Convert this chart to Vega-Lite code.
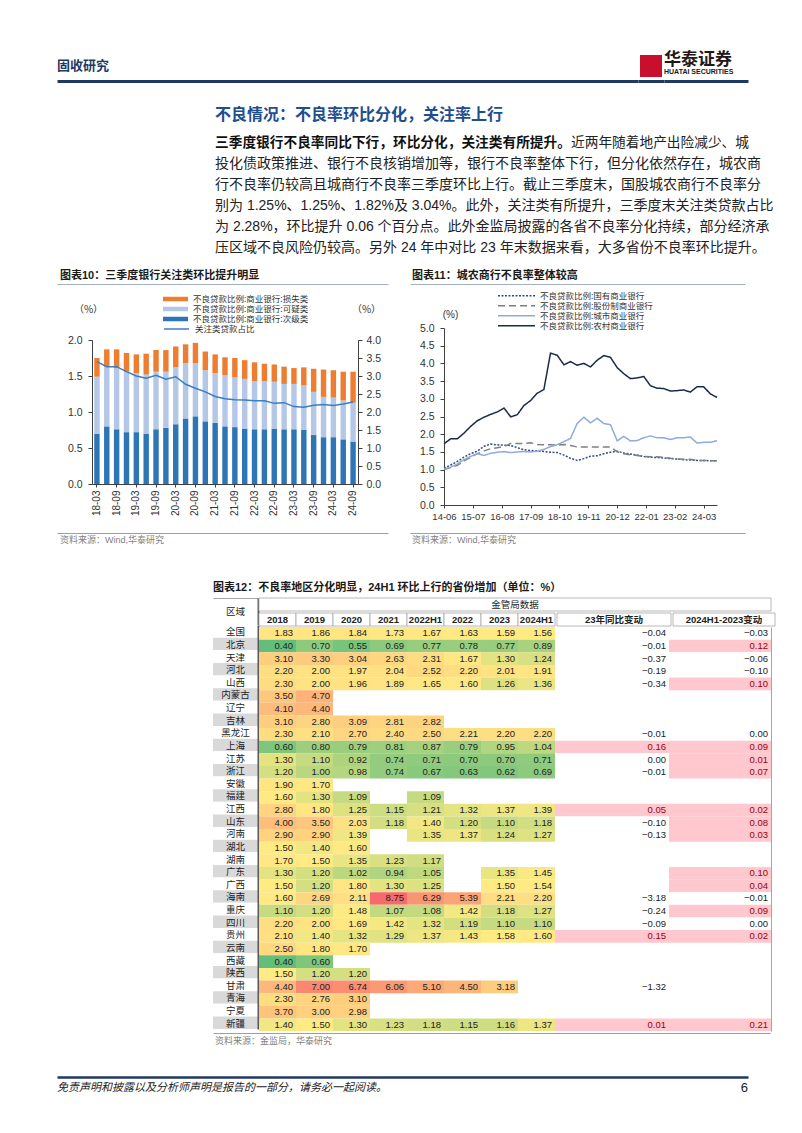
{
"$schema":"https://vega.github.io/schema/vega-lite/v6.json",
"background":"#ffffff",
"padding":{"left":57,"top":50,"right":0,"bottom":0},
"spacing":0,
"resolve":{"scale":{"color":"independent","stroke":"independent","strokeDash":"independent","fill":"independent"},"legend":{"color":"independent","stroke":"independent","strokeDash":"independent","fill":"independent"}},
"config":{
 "view":{"stroke":null},
 "font":"Liberation Sans",
 "axis":{"grid":false,"labelFont":"Liberation Sans","titleFont":"Noto Sans CJK SC"},
 "legend":{"labelFont":"Noto Sans CJK SC"},
 "text":{"font":"Noto Sans CJK SC"}
},
"datasets":{
 "首句":[{"行":1,"文字":"三季度银行不良率同比下行，环比分化，关注类有所提升。"}],
 "首行续":[{"行":1,"文字":"近两年随着地产出险减少、城"}],
 "正文":[
  {"行":2,"文字":"投化债政策推进、银行不良核销增加等，银行不良率整体下行，但分化依然存在，城农商"},
  {"行":3,"文字":"行不良率仍较高且城商行不良率三季度环比上行。截止三季度末，国股城农商行不良率分"},
  {"行":4,"文字":"别为 1.25%、1.25%、1.82%及 3.04%。此外，关注类有所提升，三季度末关注类贷款占比"},
  {"行":5,"文字":"为 2.28%，环比提升 0.06 个百分点。此外金监局披露的各省不良率分化持续，部分经济承"},
  {"行":6,"文字":"压区域不良风险仍较高。另外 24 年中对比 23 年末数据来看，大多省份不良率环比提升。"}
 ],
 "图表10":[
  {"季度":"18-03","次级类":0.70,"可疑类":0.79,"损失类":0.26,"关注类":3.40},
  {"季度":"18-06","次级类":0.80,"可疑类":0.83,"损失类":0.24,"关注类":3.26},
  {"季度":"18-09","次级类":0.76,"可疑类":0.85,"损失类":0.26,"关注类":3.26},
  {"季度":"18-12","次级类":0.72,"可疑类":0.84,"损失类":0.26,"关注类":3.12},
  {"季度":"19-03","次级类":0.72,"可疑类":0.82,"损失类":0.26,"关注类":3.00},
  {"季度":"19-06","次级类":0.70,"可疑类":0.82,"损失类":0.29,"关注类":2.94},
  {"季度":"19-09","次级类":0.76,"可疑类":0.80,"损失类":0.30,"关注类":3.02},
  {"季度":"19-12","次级类":0.78,"可疑类":0.78,"损失类":0.30,"关注类":2.91},
  {"季度":"20-03","次级类":0.83,"可疑类":0.79,"损失类":0.29,"关注类":2.98},
  {"季度":"20-06","次级类":0.91,"可疑类":0.77,"损失类":0.26,"关注类":2.77},
  {"季度":"20-09","次级类":0.94,"可疑类":0.74,"损失类":0.28,"关注类":2.66},
  {"季度":"20-12","次级类":0.87,"可疑类":0.71,"损失类":0.26,"关注类":2.56},
  {"季度":"21-03","次级类":0.85,"可疑类":0.69,"损失类":0.26,"关注类":2.43},
  {"季度":"21-06","次级类":0.80,"可疑类":0.71,"损失类":0.25,"关注类":2.37},
  {"季度":"21-09","次级类":0.79,"可疑类":0.69,"损失类":0.27,"关注类":2.34},
  {"季度":"21-12","次级类":0.77,"可疑类":0.69,"损失类":0.26,"关注类":2.33},
  {"季度":"22-03","次级类":0.76,"可疑类":0.67,"损失类":0.26,"关注类":2.31},
  {"季度":"22-06","次级类":0.76,"可疑类":0.67,"损失类":0.24,"关注类":2.31},
  {"季度":"22-09","次级类":0.77,"可疑类":0.65,"损失类":0.24,"关注类":2.24},
  {"季度":"22-12","次级类":0.76,"可疑类":0.63,"损失类":0.24,"关注类":2.26},
  {"季度":"23-03","次级类":0.76,"可疑类":0.63,"损失类":0.22,"关注类":2.15},
  {"季度":"23-06","次级类":0.75,"可疑类":0.62,"损失类":0.25,"关注类":2.13},
  {"季度":"23-09","次级类":0.68,"可疑类":0.60,"损失类":0.32,"关注类":2.19},
  {"季度":"23-12","次级类":0.65,"可疑类":0.56,"损失类":0.38,"关注类":2.21},
  {"季度":"24-03","次级类":0.65,"可疑类":0.55,"损失类":0.38,"关注类":2.18},
  {"季度":"24-06","次级类":0.62,"可疑类":0.54,"损失类":0.40,"关注类":2.22},
  {"季度":"24-09","次级类":0.59,"可疑类":0.54,"损失类":0.43,"关注类":2.28}
 ],
 "图表11":[
  {"日期":"2014-06-30","国有商业银行":1.04,"股份制商业银行":1.00,"城市商业银行":1.02,"农村商业银行":1.73},
  {"日期":"2014-09-30","国有商业银行":1.13,"股份制商业银行":1.06,"城市商业银行":1.07,"农村商业银行":1.87},
  {"日期":"2014-12-31","国有商业银行":1.23,"股份制商业银行":1.12,"城市商业银行":1.16,"农村商业银行":1.87},
  {"日期":"2015-03-31","国有商业银行":1.35,"股份制商业银行":1.25,"城市商业银行":1.28,"农村商业银行":2.03},
  {"日期":"2015-06-30","国有商业银行":1.45,"股份制商业银行":1.35,"城市商业银行":1.37,"农村商业银行":2.22},
  {"日期":"2015-09-30","国有商业银行":1.52,"股份制商业银行":1.45,"城市商业银行":1.45,"农村商业银行":2.38},
  {"日期":"2015-12-31","国有商业银行":1.66,"股份制商业银行":1.53,"城市商业银行":1.40,"农村商业银行":2.48},
  {"日期":"2016-03-31","国有商业银行":1.72,"股份制商业银行":1.59,"城市商业银行":1.46,"农村商业银行":2.56},
  {"日期":"2016-06-30","国有商业银行":1.70,"股份制商业银行":1.62,"城市商业银行":1.49,"农村商业银行":2.63},
  {"日期":"2016-09-30","国有商业银行":1.69,"股份制商业银行":1.65,"城市商业银行":1.51,"农村商业银行":2.74},
  {"日期":"2016-12-31","国有商业银行":1.68,"股份制商业银行":1.74,"城市商业银行":1.48,"农村商业银行":2.49},
  {"日期":"2017-03-31","国有商业银行":1.62,"股份制商业银行":1.74,"城市商业银行":1.50,"农村商业银行":2.55},
  {"日期":"2017-06-30","国有商业银行":1.56,"股份制商业银行":1.74,"城市商业银行":1.51,"农村商业银行":2.81},
  {"日期":"2017-09-30","国有商业银行":1.54,"股份制商业银行":1.76,"城市商业银行":1.50,"农村商业银行":2.95},
  {"日期":"2017-12-31","国有商业银行":1.53,"股份制商业银行":1.71,"城市商业银行":1.52,"农村商业银行":3.16},
  {"日期":"2018-03-31","国有商业银行":1.51,"股份制商业银行":1.70,"城市商业银行":1.57,"农村商业银行":3.26},
  {"日期":"2018-06-30","国有商业银行":1.49,"股份制商业银行":1.70,"城市商业银行":1.65,"农村商业银行":4.29},
  {"日期":"2018-09-30","国有商业银行":1.48,"股份制商业银行":1.69,"城市商业银行":1.70,"农村商业银行":4.23},
  {"日期":"2018-12-31","国有商业银行":1.41,"股份制商业银行":1.71,"城市商业银行":1.79,"农村商业银行":3.96},
  {"日期":"2019-03-31","国有商业银行":1.32,"股份制商业银行":1.68,"城市商业银行":1.88,"农村商业银行":4.05},
  {"日期":"2019-06-30","国有商业银行":1.26,"股份制商业银行":1.64,"城市商业银行":2.30,"农村商业银行":3.95},
  {"日期":"2019-09-30","国有商业银行":1.31,"股份制商业银行":1.64,"城市商业银行":2.48,"农村商业银行":4.00},
  {"日期":"2019-12-31","国有商业银行":1.38,"股份制商业银行":1.64,"城市商业银行":2.32,"农村商业银行":3.90},
  {"日期":"2020-03-31","国有商业银行":1.39,"股份制商业银行":1.64,"城市商业银行":2.45,"农村商业银行":4.09},
  {"日期":"2020-06-30","国有商业银行":1.45,"股份制商业银行":1.64,"城市商业银行":2.30,"农村商业银行":4.22},
  {"日期":"2020-09-30","国有商业银行":1.49,"股份制商业银行":1.64,"城市商业银行":2.27,"农村商业银行":4.17},
  {"日期":"2020-12-31","国有商业银行":1.52,"股份制商业银行":1.50,"城市商业银行":1.81,"农村商业银行":3.88},
  {"日期":"2021-03-31","国有商业银行":1.47,"股份制商业银行":1.45,"城市商业银行":1.94,"农村商业银行":3.71},
  {"日期":"2021-06-30","国有商业银行":1.44,"股份制商业银行":1.42,"城市商业银行":1.81,"农村商业银行":3.57},
  {"日期":"2021-09-30","国有商业银行":1.41,"股份制商业银行":1.40,"城市商业银行":1.82,"农村商业银行":3.59},
  {"日期":"2021-12-31","国有商业银行":1.37,"股份制商业银行":1.37,"城市商业银行":1.90,"农村商业银行":3.63},
  {"日期":"2022-03-31","国有商业银行":1.35,"股份制商业银行":1.36,"城市商业银行":1.95,"农村商业银行":3.37},
  {"日期":"2022-06-30","国有商业银行":1.34,"股份制商业银行":1.36,"城市商业银行":1.90,"农村商业银行":3.30},
  {"日期":"2022-09-30","国有商业银行":1.33,"股份制商业银行":1.35,"城市商业银行":1.90,"农村商业银行":3.29},
  {"日期":"2022-12-31","国有商业银行":1.31,"股份制商业银行":1.32,"城市商业银行":1.85,"农村商业银行":3.22},
  {"日期":"2023-03-31","国有商业银行":1.30,"股份制商业银行":1.30,"城市商业银行":1.90,"农村商业银行":3.23},
  {"日期":"2023-06-30","国有商业银行":1.28,"股份制商业银行":1.29,"城市商业银行":1.90,"农村商业银行":3.25},
  {"日期":"2023-09-30","国有商业银行":1.27,"股份制商业银行":1.29,"城市商业银行":1.92,"农村商业银行":3.19},
  {"日期":"2023-12-31","国有商业银行":1.26,"股份制商业银行":1.26,"城市商业银行":1.75,"农村商业银行":3.34},
  {"日期":"2024-03-31","国有商业银行":1.26,"股份制商业银行":1.26,"城市商业银行":1.77,"农村商业银行":3.34},
  {"日期":"2024-06-30","国有商业银行":1.25,"股份制商业银行":1.25,"城市商业银行":1.77,"农村商业银行":3.14},
  {"日期":"2024-09-30","国有商业银行":1.25,"股份制商业银行":1.25,"城市商业银行":1.82,"农村商业银行":3.04}
 ],
 "年份":[{"列":"2018"},{"列":"2019"},{"列":"2020"},{"列":"2021"},{"列":"2022H1"},{"列":"2022"},{"列":"2023"},{"列":"2024H1"}],
 "表":[
  {"地区":"全国","2018":1.83,"2019":1.86,"2020":1.84,"2021":1.73,"2022H1":1.67,"2022":1.63,"2023":1.59,"2024H1":1.56,"23年同比变动":-0.04,"2024H1-2023变动":-0.03},
  {"地区":"北京","2018":0.40,"2019":0.70,"2020":0.55,"2021":0.69,"2022H1":0.77,"2022":0.78,"2023":0.77,"2024H1":0.89,"23年同比变动":-0.01,"2024H1-2023变动":0.12},
  {"地区":"天津","2018":3.10,"2019":3.30,"2020":3.04,"2021":2.63,"2022H1":2.31,"2022":1.67,"2023":1.30,"2024H1":1.24,"23年同比变动":-0.37,"2024H1-2023变动":-0.06},
  {"地区":"河北","2018":2.20,"2019":2.00,"2020":1.97,"2021":2.04,"2022H1":2.52,"2022":2.20,"2023":2.01,"2024H1":1.91,"23年同比变动":-0.19,"2024H1-2023变动":-0.10},
  {"地区":"山西","2018":2.30,"2019":2.00,"2020":1.96,"2021":1.89,"2022H1":1.65,"2022":1.60,"2023":1.26,"2024H1":1.36,"23年同比变动":-0.34,"2024H1-2023变动":0.10},
  {"地区":"内蒙古","2018":3.50,"2019":4.70},
  {"地区":"辽宁","2018":4.10,"2019":4.40},
  {"地区":"吉林","2018":3.10,"2019":2.80,"2020":3.09,"2021":2.81,"2022H1":2.82},
  {"地区":"黑龙江","2018":2.30,"2019":2.10,"2020":2.70,"2021":2.40,"2022H1":2.50,"2022":2.21,"2023":2.20,"2024H1":2.20,"23年同比变动":-0.01,"2024H1-2023变动":0.00},
  {"地区":"上海","2018":0.60,"2019":0.80,"2020":0.79,"2021":0.81,"2022H1":0.87,"2022":0.79,"2023":0.95,"2024H1":1.04,"23年同比变动":0.16,"2024H1-2023变动":0.09},
  {"地区":"江苏","2018":1.30,"2019":1.10,"2020":0.92,"2021":0.74,"2022H1":0.71,"2022":0.70,"2023":0.70,"2024H1":0.71,"23年同比变动":0.00,"2024H1-2023变动":0.01},
  {"地区":"浙江","2018":1.20,"2019":1.00,"2020":0.98,"2021":0.74,"2022H1":0.67,"2022":0.63,"2023":0.62,"2024H1":0.69,"23年同比变动":-0.01,"2024H1-2023变动":0.07},
  {"地区":"安徽","2018":1.90,"2019":1.70},
  {"地区":"福建","2018":1.60,"2019":1.30,"2020":1.09,"2022H1":1.09},
  {"地区":"江西","2018":2.80,"2019":1.80,"2020":1.25,"2021":1.15,"2022H1":1.21,"2022":1.32,"2023":1.37,"2024H1":1.39,"23年同比变动":0.05,"2024H1-2023变动":0.02},
  {"地区":"山东","2018":4.00,"2019":3.50,"2020":2.03,"2021":1.18,"2022H1":1.40,"2022":1.20,"2023":1.10,"2024H1":1.18,"23年同比变动":-0.10,"2024H1-2023变动":0.08},
  {"地区":"河南","2018":2.90,"2019":2.90,"2020":1.39,"2022H1":1.35,"2022":1.37,"2023":1.24,"2024H1":1.27,"23年同比变动":-0.13,"2024H1-2023变动":0.03},
  {"地区":"湖北","2018":1.50,"2019":1.40,"2020":1.60},
  {"地区":"湖南","2018":1.70,"2019":1.50,"2020":1.35,"2021":1.23,"2022H1":1.17},
  {"地区":"广东","2018":1.30,"2019":1.20,"2020":1.02,"2021":0.94,"2022H1":1.05,"2023":1.35,"2024H1":1.45,"2024H1-2023变动":0.10},
  {"地区":"广西","2018":1.50,"2019":1.20,"2020":1.80,"2021":1.30,"2022H1":1.25,"2023":1.50,"2024H1":1.54,"2024H1-2023变动":0.04},
  {"地区":"海南","2018":1.60,"2019":2.69,"2020":2.11,"2021":8.75,"2022H1":6.29,"2022":5.39,"2023":2.21,"2024H1":2.20,"23年同比变动":-3.18,"2024H1-2023变动":-0.01},
  {"地区":"重庆","2018":1.10,"2019":1.20,"2020":1.48,"2021":1.07,"2022H1":1.08,"2022":1.42,"2023":1.18,"2024H1":1.27,"23年同比变动":-0.24,"2024H1-2023变动":0.09},
  {"地区":"四川","2018":2.20,"2019":2.00,"2020":1.69,"2021":1.42,"2022H1":1.32,"2022":1.19,"2023":1.10,"2024H1":1.10,"23年同比变动":-0.09,"2024H1-2023变动":0.00},
  {"地区":"贵州","2018":2.10,"2019":1.40,"2020":1.32,"2021":1.29,"2022H1":1.37,"2022":1.43,"2023":1.58,"2024H1":1.60,"23年同比变动":0.15,"2024H1-2023变动":0.02},
  {"地区":"云南","2018":2.50,"2019":1.80,"2020":1.70},
  {"地区":"西藏","2018":0.40,"2019":0.60},
  {"地区":"陕西","2018":1.50,"2019":1.20,"2020":1.20},
  {"地区":"甘肃","2018":4.40,"2019":7.00,"2020":6.74,"2021":6.06,"2022H1":5.10,"2022":4.50,"2023":3.18,"23年同比变动":-1.32},
  {"地区":"青海","2018":2.30,"2019":2.76,"2020":3.10},
  {"地区":"宁夏","2018":3.70,"2019":3.00,"2020":2.98},
  {"地区":"新疆","2018":1.40,"2019":1.50,"2020":1.30,"2021":1.23,"2022H1":1.18,"2022":1.15,"2023":1.16,"2024H1":1.37,"23年同比变动":0.01,"2024H1-2023变动":0.21}
 ]
},
"vconcat":[
 {"hconcat":[
  {"width":581,"height":30,"data":{"values":[{"文字":"固收研究"}]},
   "mark":{"type":"text","align":"left","baseline":"middle","font":"Noto Sans CJK SC","fontSize":13,"fontWeight":"bold","color":"#1F3864"},
   "encoding":{"x":{"datum":"页眉","type":"nominal","bandPosition":0,"scale":{"type":"band","paddingInner":0,"paddingOuter":0},"axis":{"orient":"bottom","domain":true,"domainColor":"#1F3864","domainWidth":3,"labels":false,"ticks":false,"title":null,"grid":false}},"text":{"field":"文字"}}},
  {"width":26,"height":30,"data":{"values":[{"文字":"华泰证券标志"}]},
   "mark":{"type":"point","shape":"square","filled":true,"size":484,"color":"#C8102E","opacity":1},
   "encoding":{"x":{"datum":"页眉","type":"nominal","scale":{"type":"band","paddingInner":0,"paddingOuter":0},"axis":{"orient":"bottom","domain":true,"domainColor":"#1F3864","domainWidth":3,"labels":false,"ticks":false,"title":null,"grid":false}}}},
  {"width":84,"height":30,
   "layer":[
    {"data":{"values":[{"文字":"华泰证券"}]},
     "mark":{"type":"text","align":"left","baseline":"middle","font":"Noto Sans CJK SC","fontSize":17,"fontWeight":"bold","color":"#231815"},
     "encoding":{"x":{"datum":"页眉","type":"nominal","bandPosition":0,"scale":{"type":"band","paddingInner":0,"paddingOuter":0},"axis":{"orient":"bottom","domain":true,"domainColor":"#1F3864","domainWidth":3,"labels":false,"ticks":false,"title":null,"grid":false}},
      "y":{"datum":"上","type":"nominal","scale":{"type":"band","domain":["上","下"],"paddingInner":0,"paddingOuter":0.2},"axis":null},
      "text":{"field":"文字"}}},
    {"data":{"values":[{"文字":"HUATAI SECURITIES"}]},
     "mark":{"type":"text","align":"left","baseline":"middle","font":"Liberation Sans","fontSize":7,"fontWeight":"bold","color":"#231815"},
     "encoding":{"x":{"datum":"页眉","type":"nominal","bandPosition":0,"axis":{"orient":"bottom","domain":true,"domainColor":"#1F3864","domainWidth":3,"labels":false,"ticks":false,"title":null,"grid":false}},
      "y":{"datum":"下","type":"nominal"},
      "text":{"field":"文字"}}}
   ]}
 ],"spacing":0},
 {"width":1,"height":22.5,"data":{"values":[]},"mark":"point","encoding":{}},
 {"hconcat":[
  {"width":158,"height":154,"data":{"values":[]},"mark":"point","encoding":{}},
  {"vconcat":[
   {"width":533,"height":22,"data":{"values":[{"文字":"不良情况：不良率环比分化，关注率上行"}]},
    "mark":{"type":"text","align":"left","baseline":"middle","font":"Noto Sans CJK SC","fontSize":16,"fontWeight":"bold","color":"#1F4E8C"},
    "encoding":{"x":{"datum":"标题","type":"nominal","bandPosition":0,"scale":{"type":"band","paddingInner":0,"paddingOuter":0},"axis":null},"text":{"field":"文字"}}},
   {"width":1,"height":6,"data":{"values":[]},"mark":"point","encoding":{}},
   {"width":533,"height":126,
    "encoding":{
     "x":{"datum":"正文","type":"nominal","bandPosition":0,"scale":{"type":"band","paddingInner":0,"paddingOuter":0},"axis":null},
     "y":{"field":"行","type":"ordinal","scale":{"type":"band","domain":[1,2,3,4,5,6],"paddingInner":0,"paddingOuter":0},"axis":null},
     "text":{"field":"文字"}},
    "layer":[
     {"data":{"name":"首句"},"mark":{"type":"text","align":"left","baseline":"middle","font":"Noto Sans CJK SC","fontSize":13.7,"fontWeight":"bold","color":"#111111"}},
     {"data":{"name":"首行续"},"mark":{"type":"text","align":"left","baseline":"middle","font":"Noto Sans CJK SC","fontSize":13.7,"color":"#222222","dx":356}},
     {"data":{"name":"正文"},"mark":{"type":"text","align":"left","baseline":"middle","font":"Liberation Sans, Noto Sans CJK SC","fontSize":14,"color":"#222222"}}
    ]}
  ],"spacing":0}
 ],"spacing":0},
 {"width":1,"height":10,"data":{"values":[]},"mark":"point","encoding":{}},
 {"hconcat":[
  {"vconcat":[
   {"width":331,"height":16,"data":{"values":[{"文字":"图表10：三季度银行关注类环比提升明显"}]},
    "mark":{"type":"text","align":"left","baseline":"middle","font":"Liberation Sans, Noto Sans CJK SC","fontSize":11,"fontWeight":"bold","color":"#1a1a1a","dx":3},
    "encoding":{"x":{"datum":"图表10","type":"nominal","bandPosition":0,"scale":{"type":"band","paddingInner":0,"paddingOuter":0},"axis":{"orient":"bottom","domain":true,"domainColor":"#A3AFC2","domainWidth":1,"labels":false,"ticks":false,"title":null,"grid":false}},"text":{"field":"文字"}}},
   {"width":1,"height":9.5,"data":{"values":[]},"mark":"point","encoding":{}},
   {"hconcat":[
    {"width":10,"height":1,"data":{"values":[]},"mark":"point","encoding":{}},
    {"width":266,"height":144,"data":{"name":"图表10"},
     "layer":[
      {"transform":[{"fold":["次级类","可疑类","损失类"],"as":["类别","比例"]},{"window":[{"op":"row_number","as":"层"}],"groupby":["季度"]}],
       "mark":{"type":"bar"},
       "encoding":{
        "x":{"field":"季度","type":"ordinal","sort":null,"scale":{"type":"band","paddingInner":0.45,"paddingOuter":0.225},
             "axis":{"values":["18-03","18-09","19-03","19-09","20-03","20-09","21-03","21-09","22-03","22-09","23-03","23-09","24-03","24-09"],"labelAngle":-90,"labelFontSize":10,"labelColor":"#333333","domainColor":"#404040","tickColor":"#404040","tickSize":3,"labelPadding":3,"title":null}},
        "y":{"field":"比例","type":"quantitative","stack":"zero","scale":{"domain":[0,2]},
             "axis":{"values":[0,0.5,1,1.5,2],"format":".1f","labelFontSize":10.5,"labelColor":"#333333","labelPadding":6,"domainColor":"#404040","tickColor":"#404040","tickSize":4,"title":"（%）","titleAngle":0,"titleX":-4,"titleY":-31,"titleAlign":"center","titleBaseline":"middle","titleFontSize":10,"titleFontWeight":"normal","titleColor":"#333333"}},
        "color":{"field":"类别","type":"nominal","scale":{"domain":["损失类","可疑类","次级类"],"range":["#ED7D31","#B4C7E7","#2E75B6"]},
             "legend":{"orient":"none","legendX":71,"legendY":-46,"title":null,"symbolType":"M-1,-0.18L1,-0.18L1,0.18L-1,0.18Z","symbolSize":625,"symbolStrokeWidth":0,"clipHeight":10,"rowPadding":0,"padding":0,"labelFontSize":8.5,"labelColor":"#333333","labelOffset":5,"labelExpr":"'不良贷款比例:商业银行:' + datum.label"}},
        "order":{"field":"层","type":"quantitative"}}},
      {"mark":{"type":"line","strokeWidth":1.5},
       "encoding":{
        "x":{"field":"季度","type":"ordinal","sort":null},
        "y":{"field":"关注类","type":"quantitative","scale":{"domain":[0,4]},
             "axis":{"orient":"right","values":[0,0.5,1,1.5,2,2.5,3,3.5,4],"format":".1f","labelFontSize":10.5,"labelColor":"#333333","labelPadding":4,"domainColor":"#404040","tickColor":"#404040","tickSize":4,"title":"（%）","titleAngle":0,"titleX":8,"titleY":-31,"titleAlign":"center","titleBaseline":"middle","titleFontSize":10,"titleFontWeight":"normal","titleColor":"#333333"}},
        "stroke":{"datum":"关注类贷款占比","type":"nominal","scale":{"range":["#3B7DC4"]},
             "legend":{"orient":"none","legendX":71,"legendY":-16,"title":null,"symbolType":"stroke","symbolSize":625,"symbolStrokeWidth":1.5,"clipHeight":10,"rowPadding":0,"padding":0,"labelFontSize":8.5,"labelColor":"#333333","labelOffset":5}}}}
     ],
     "resolve":{"scale":{"y":"independent"}}}
   ],"spacing":0,
   "resolve":{"scale":{"color":"independent","stroke":"independent"},"legend":{"color":"independent","stroke":"independent"}}},
   {"width":1,"height":16.5,"data":{"values":[]},"mark":"point","encoding":{}},
   {"width":331,"height":14,"data":{"values":[{"文字":"资料来源：Wind,华泰研究"}]},
    "mark":{"type":"text","align":"left","baseline":"middle","font":"Liberation Sans, Noto Sans CJK SC","fontSize":9,"color":"#7F7F7F","dx":3},
    "encoding":{"x":{"datum":"来源","type":"nominal","bandPosition":0,"scale":{"type":"band","paddingInner":0,"paddingOuter":0},"axis":{"orient":"top","domain":true,"domainColor":"#8EA0C0","domainWidth":1,"labels":false,"ticks":false,"title":null,"grid":false}},"text":{"field":"文字"}}}
  ],"spacing":0,
  "resolve":{"scale":{"color":"independent","stroke":"independent"},"legend":{"color":"independent","stroke":"independent"}}},
  {"width":22,"height":1,"data":{"values":[]},"mark":"point","encoding":{}},
  {"vconcat":[
   {"width":335,"height":16,"data":{"values":[{"文字":"图表11：城农商行不良率整体较高"}]},
    "mark":{"type":"text","align":"left","baseline":"middle","font":"Liberation Sans, Noto Sans CJK SC","fontSize":11,"fontWeight":"bold","color":"#1a1a1a","dx":2},
    "encoding":{"x":{"datum":"图表11","type":"nominal","bandPosition":0,"scale":{"type":"band","paddingInner":0,"paddingOuter":0},"axis":{"orient":"bottom","domain":true,"domainColor":"#A3AFC2","domainWidth":1,"labels":false,"ticks":false,"title":null,"grid":false}},"text":{"field":"文字"}}},
   {"width":1,"height":6.5,"data":{"values":[]},"mark":"point","encoding":{}},
   {"hconcat":[
    {"width":9,"height":1,"data":{"values":[]},"mark":"point","encoding":{}},
    {"width":273,"height":177,"data":{"name":"图表11"},
     "transform":[{"fold":["国有商业银行","股份制商业银行","城市商业银行","农村商业银行"],"as":["类型","不良率"]}],
     "mark":{"type":"line","strokeWidth":1.5},
     "encoding":{
      "x":{"field":"日期","type":"temporal","scale":{"type":"utc","domain":[{"year":2014,"month":6,"date":30,"utc":true},{"year":2024,"month":9,"date":30,"utc":true}]},
           "axis":{"values":[{"year":2014,"month":6,"date":30,"utc":true},{"year":2015,"month":7,"date":31,"utc":true},{"year":2016,"month":8,"date":31,"utc":true},{"year":2017,"month":9,"date":30,"utc":true},{"year":2018,"month":10,"date":31,"utc":true},{"year":2019,"month":11,"date":30,"utc":true},{"year":2020,"month":12,"date":31,"utc":true},{"year":2022,"month":1,"date":31,"utc":true},{"year":2023,"month":2,"date":28,"utc":true},{"year":2024,"month":3,"date":31,"utc":true}],
                   "labelExpr":"utcFormat(datum.value, '%y-%m')","labelAngle":0,"labelFlush":false,"labelOverlap":false,"labelFontSize":9.5,"labelColor":"#333333","labelPadding":3,"domainColor":"#404040","tickColor":"#404040","tickSize":3,"title":null}},
      "y":{"field":"不良率","type":"quantitative","scale":{"domain":[0,5]},
           "axis":{"values":[0,0.5,1,1.5,2,2.5,3,3.5,4,4.5,5],"format":".1f","labelFontSize":10.5,"labelColor":"#333333","labelPadding":6,"domainColor":"#404040","tickColor":"#404040","tickSize":4,"title":"(%)","titleAngle":0,"titleX":6,"titleY":-14,"titleAlign":"center","titleBaseline":"middle","titleFontSize":10,"titleFontWeight":"normal","titleColor":"#333333","titleFont":"Liberation Sans"}},
      "color":{"field":"类型","type":"nominal","scale":{"domain":["国有商业银行","股份制商业银行","城市商业银行","农村商业银行"],"range":["#2F4D89","#7F7F7F","#8FAADC","#1B2A4A"]},
           "legend":{"orient":"none","legendX":53,"legendY":-37,"title":null,"symbolType":"stroke","symbolSize":1369,"symbolStrokeWidth":1.5,"clipHeight":9.5,"rowPadding":0,"padding":0,"labelFontSize":8.5,"labelColor":"#333333","labelOffset":4,"labelExpr":"'不良贷款比例:' + datum.label"}},
      "strokeDash":{"field":"类型","type":"nominal","scale":{"domain":["国有商业银行","股份制商业银行","城市商业银行","农村商业银行"],"range":[[2,1.5],[7,4],[1,0],[1,0]]},
           "legend":{"orient":"none","legendX":53,"legendY":-37,"title":null,"symbolType":"stroke","symbolSize":1369,"symbolStrokeWidth":1.5,"clipHeight":9.5,"rowPadding":0,"padding":0,"labelFontSize":8.5,"labelColor":"#333333","labelOffset":4,"labelExpr":"'不良贷款比例:' + datum.label"}}}}
   ],"spacing":0,
   "resolve":{"scale":{"color":"independent","strokeDash":"independent"},"legend":{"color":"independent","strokeDash":"independent"}}},
   {"width":1,"height":12,"data":{"values":[]},"mark":"point","encoding":{}},
   {"width":335,"height":14,"data":{"values":[{"文字":"资料来源：Wind,华泰研究"}]},
    "mark":{"type":"text","align":"left","baseline":"middle","font":"Liberation Sans, Noto Sans CJK SC","fontSize":9,"color":"#7F7F7F","dx":2},
    "encoding":{"x":{"datum":"来源","type":"nominal","bandPosition":0,"scale":{"type":"band","paddingInner":0,"paddingOuter":0},"axis":{"orient":"top","domain":true,"domainColor":"#8EA0C0","domainWidth":1,"labels":false,"ticks":false,"title":null,"grid":false}},"text":{"field":"文字"}}}
  ],"spacing":0,
  "resolve":{"scale":{"color":"independent","strokeDash":"independent"},"legend":{"color":"independent","strokeDash":"independent"}}}
 ],"spacing":0,
 "resolve":{"scale":{"color":"independent","stroke":"independent","strokeDash":"independent","fill":"independent"},"legend":{"color":"independent","stroke":"independent","strokeDash":"independent","fill":"independent"}}},
 {"width":1,"height":30,"data":{"values":[]},"mark":"point","encoding":{}},
 {"hconcat":[
  {"width":156,"height":1,"data":{"values":[]},"mark":"point","encoding":{}},
  {"vconcat":[
   {"width":557,"height":16,"data":{"values":[{"文字":"图表12：不良率地区分化明显，24H1 环比上行的省份增加（单位：%）"}]},
    "mark":{"type":"text","align":"left","baseline":"middle","font":"Liberation Sans, Noto Sans CJK SC","fontSize":11,"fontWeight":"bold","color":"#1a1a1a","dy":3},
    "encoding":{"x":{"datum":"图表12","type":"nominal","bandPosition":0,"scale":{"type":"band","paddingInner":0,"paddingOuter":0},"axis":null},"text":{"field":"文字"}}},
   {"width":1,"height":4,"data":{"values":[]},"mark":"point","encoding":{}},
   {"hconcat":[
    {"vconcat":[
     {"width":45,"height":27,"data":{"values":[{"文字":"区域"}]},
      "mark":{"type":"text","font":"Noto Sans CJK SC","fontSize":9.5,"color":"#222222"},
      "encoding":{
       "x":{"datum":"区域","type":"nominal","scale":{"type":"band","paddingInner":0,"paddingOuter":0},"axis":{"orient":"top","domain":true,"domainColor":"#A6A6A6","domainWidth":1,"labels":false,"ticks":false,"title":null,"grid":false}},
       "y":{"datum":"区域","type":"nominal","scale":{"type":"band","paddingInner":0,"paddingOuter":0},"axis":{"orient":"right","domain":true,"domainColor":"#595959","domainWidth":2,"labels":false,"ticks":false,"title":null,"grid":false}},
       "text":{"field":"文字"}}},
     {"width":45,"height":404,"data":{"name":"表"},
      "transform":[{"window":[{"op":"row_number","as":"序号"}]}],
      "encoding":{
       "x":{"datum":"区域","type":"nominal","scale":{"type":"band","paddingInner":0,"paddingOuter":0},"axis":null},
       "y":{"field":"地区","type":"nominal","scale":{"type":"band","domain":["全国","北京","天津","河北","山西","内蒙古","辽宁","吉林","黑龙江","上海","江苏","浙江","安徽","福建","江西","山东","河南","湖北","湖南","广东","广西","海南","重庆","四川","贵州","云南","西藏","陕西","甘肃","青海","宁夏","新疆"],"paddingInner":0,"paddingOuter":0},"axis":{"orient":"right","domain":true,"domainColor":"#595959","domainWidth":2,"labels":false,"ticks":false,"title":null,"grid":false}}},
      "layer":[
       {"mark":{"type":"rect"},"encoding":{"fill":{"condition":{"test":"datum['序号'] % 2 === 0","value":"#D9D9D9"},"value":"#FFFFFF"}}},
       {"mark":{"type":"text","baseline":"middle","dy":1,"font":"Noto Sans CJK SC","fontSize":9.5,"color":"#222222"},"encoding":{"text":{"field":"地区"}}}
      ]}
    ],"spacing":0},
    {"vconcat":[
     {"width":512,"height":13,"data":{"values":[{"文字":"金管局数据"}]},
      "encoding":{
       "x":{"datum":"金管局","type":"nominal","scale":{"type":"band","paddingInner":0,"paddingOuter":0},"axis":null},
       "y":{"datum":"金管局","type":"nominal","scale":{"type":"band","paddingInner":0,"paddingOuter":0},"axis":null}},
      "layer":[
       {"mark":{"type":"rect","fill":"#FFFFFF","stroke":"#A6A6A6","strokeWidth":0.8}},
       {"mark":{"type":"text","font":"Noto Sans CJK SC","fontSize":9.5,"color":"#222222"},"encoding":{"text":{"field":"文字"}}}
      ]},
     {"hconcat":[
      {"width":296,"height":13,"data":{"name":"年份"},
       "encoding":{
        "x":{"field":"列","type":"nominal","sort":null,"scale":{"type":"band","paddingInner":0,"paddingOuter":0},"axis":null},
        "y":{"datum":"表头","type":"nominal","scale":{"type":"band","paddingInner":0,"paddingOuter":0},"axis":null}},
       "layer":[
        {"mark":{"type":"rect","fill":"#FFFFFF","stroke":"#A6A6A6","strokeWidth":0.8}},
        {"mark":{"type":"text","font":"Liberation Sans","fontSize":9.5,"fontWeight":"bold","color":"#222222"},"encoding":{"text":{"field":"列"}}}
       ]},
      {"width":114,"height":13,"data":{"values":[{"列":"23年同比变动"}]},
       "encoding":{
        "x":{"field":"列","type":"nominal","scale":{"type":"band","paddingInner":0,"paddingOuter":0},"axis":null},
        "y":{"datum":"表头","type":"nominal","scale":{"type":"band","paddingInner":0,"paddingOuter":0},"axis":null}},
       "layer":[
        {"mark":{"type":"rect","fill":"#FFFFFF","stroke":"#A6A6A6","strokeWidth":0.8}},
        {"mark":{"type":"text","font":"Liberation Sans, Noto Sans CJK SC","fontSize":9.5,"fontWeight":"bold","color":"#222222"},"encoding":{"text":{"field":"列"}}}
       ]},
      {"width":102,"height":13,"data":{"values":[{"列":"2024H1-2023变动"}]},
       "encoding":{
        "x":{"field":"列","type":"nominal","scale":{"type":"band","paddingInner":0,"paddingOuter":0},"axis":null},
        "y":{"datum":"表头","type":"nominal","scale":{"type":"band","paddingInner":0,"paddingOuter":0},"axis":null}},
       "layer":[
        {"mark":{"type":"rect","fill":"#FFFFFF","stroke":"#A6A6A6","strokeWidth":0.8}},
        {"mark":{"type":"text","font":"Liberation Sans, Noto Sans CJK SC","fontSize":9.5,"fontWeight":"bold","color":"#222222"},"encoding":{"text":{"field":"列"}}}
       ]}
     ],"spacing":0},
     {"hconcat":[
      {"width":296,"height":404,"data":{"name":"表"},
       "transform":[{"fold":["2018","2019","2020","2021","2022H1","2022","2023","2024H1"],"as":["列","值"]},{"filter":{"field":"值","valid":true}}],
       "encoding":{
        "x":{"field":"列","type":"nominal","scale":{"type":"band","domain":["2018","2019","2020","2021","2022H1","2022","2023","2024H1"],"paddingInner":0,"paddingOuter":0},"axis":null},
        "y":{"field":"地区","type":"nominal","scale":{"type":"band","domain":["全国","北京","天津","河北","山西","内蒙古","辽宁","吉林","黑龙江","上海","江苏","浙江","安徽","福建","江西","山东","河南","湖北","湖南","广东","广西","海南","重庆","四川","贵州","云南","西藏","陕西","甘肃","青海","宁夏","新疆"],"paddingInner":0,"paddingOuter":0},"axis":null}},
       "layer":[
        {"mark":{"type":"rect"},"encoding":{"color":{"field":"值","type":"quantitative","scale":{"type":"linear","domain":[0.4,1.5,8.75],"range":["#63BE7B","#FFEB84","#F8696B"],"interpolate":"rgb"},"legend":null}}},
        {"mark":{"type":"text","align":"right","baseline":"middle","dx":-3,"font":"Liberation Sans","fontSize":9.5,"color":"#222222"},
         "encoding":{"x":{"field":"列","type":"nominal","bandPosition":1},"text":{"field":"值","type":"quantitative","format":".2f"}}}
       ]},
      {"width":114,"height":404,"data":{"name":"表"},
       "transform":[{"filter":{"field":"23年同比变动","valid":true}}],
       "encoding":{
        "x":{"datum":"23年同比变动","type":"nominal","scale":{"type":"band","paddingInner":0,"paddingOuter":0},"axis":null},
        "y":{"field":"地区","type":"nominal","scale":{"type":"band","domain":["全国","北京","天津","河北","山西","内蒙古","辽宁","吉林","黑龙江","上海","江苏","浙江","安徽","福建","江西","山东","河南","湖北","湖南","广东","广西","海南","重庆","四川","贵州","云南","西藏","陕西","甘肃","青海","宁夏","新疆"],"paddingInner":0,"paddingOuter":0},"axis":null}},
       "layer":[
        {"mark":{"type":"rect"},"encoding":{"fill":{"condition":{"test":"datum['23年同比变动'] > 0","value":"#FFC7CE"},"value":"#FFFFFF"}}},
        {"mark":{"type":"text","align":"right","baseline":"middle","dx":-3,"font":"Liberation Sans","fontSize":9.5},
         "encoding":{"x":{"datum":"23年同比变动","type":"nominal","bandPosition":1},"text":{"field":"23年同比变动","type":"quantitative","format":".2f"},"color":{"condition":{"test":"datum['23年同比变动'] > 0","value":"#9C0006"},"value":"#222222"}}}
       ]},
      {"width":102,"height":404,"data":{"name":"表"},
       "transform":[{"filter":{"field":"2024H1-2023变动","valid":true}}],
       "encoding":{
        "x":{"datum":"2024H1-2023变动","type":"nominal","scale":{"type":"band","paddingInner":0,"paddingOuter":0},"axis":null},
        "y":{"field":"地区","type":"nominal","scale":{"type":"band","domain":["全国","北京","天津","河北","山西","内蒙古","辽宁","吉林","黑龙江","上海","江苏","浙江","安徽","福建","江西","山东","河南","湖北","湖南","广东","广西","海南","重庆","四川","贵州","云南","西藏","陕西","甘肃","青海","宁夏","新疆"],"paddingInner":0,"paddingOuter":0},"axis":{"orient":"right","domain":true,"domainColor":"#9BBB59","domainWidth":1,"labels":false,"ticks":false,"title":null,"grid":false}}},
       "layer":[
        {"mark":{"type":"rect"},"encoding":{"fill":{"condition":{"test":"datum['2024H1-2023变动'] > 0","value":"#FFC7CE"},"value":"#FFFFFF"}}},
        {"mark":{"type":"text","align":"right","baseline":"middle","dx":-3,"font":"Liberation Sans","fontSize":9.5},
         "encoding":{"x":{"datum":"2024H1-2023变动","type":"nominal","bandPosition":1},"text":{"field":"2024H1-2023变动","type":"quantitative","format":".2f"},"color":{"condition":{"test":"datum['2024H1-2023变动'] > 0","value":"#9C0006"},"value":"#222222"}}}
       ]}
     ],"spacing":0}
    ],"spacing":0}
   ],"spacing":0},
   {"width":1,"height":1.5,"data":{"values":[]},"mark":"point","encoding":{}},
   {"width":557,"height":16,"data":{"values":[{"文字":"资料来源：金监局，华泰研究"}]},
    "mark":{"type":"text","align":"left","baseline":"middle","font":"Noto Sans CJK SC","fontSize":9,"color":"#7F7F7F","dx":2},
    "encoding":{"x":{"datum":"来源","type":"nominal","bandPosition":0,"scale":{"type":"band","paddingInner":0,"paddingOuter":0},"axis":{"orient":"top","domain":true,"domainColor":"#8EA0C0","domainWidth":1,"labels":false,"ticks":false,"title":null,"grid":false}},"text":{"field":"文字"}}}
  ],"spacing":0}
 ],"spacing":0},
 {"width":1,"height":27.65,"data":{"values":[]},"mark":"point","encoding":{}},
 {"width":691,"height":22,
  "layer":[
   {"data":{"values":[{"文字":"免责声明和披露以及分析师声明是报告的一部分，请务必一起阅读。"}]},
    "mark":{"type":"text","align":"left","baseline":"middle","font":"Noto Sans CJK SC","fontSize":11,"fontStyle":"italic","color":"#222222"},
    "encoding":{"x":{"datum":"页脚","type":"nominal","bandPosition":0,"scale":{"type":"band","paddingInner":0,"paddingOuter":0},"axis":{"orient":"top","domain":true,"domainColor":"#1F3864","domainWidth":2.5,"labels":false,"ticks":false,"title":null,"grid":false}},"text":{"field":"文字"}}},
   {"data":{"values":[{"文字":"6"}]},
    "mark":{"type":"text","align":"right","baseline":"middle","font":"Liberation Sans","fontSize":13,"color":"#222222"},
    "encoding":{"x":{"datum":"页脚","type":"nominal","bandPosition":1,"axis":{"orient":"top","domain":true,"domainColor":"#1F3864","domainWidth":2.5,"labels":false,"ticks":false,"title":null,"grid":false}},"text":{"field":"文字"}}}
  ]}
]
}
